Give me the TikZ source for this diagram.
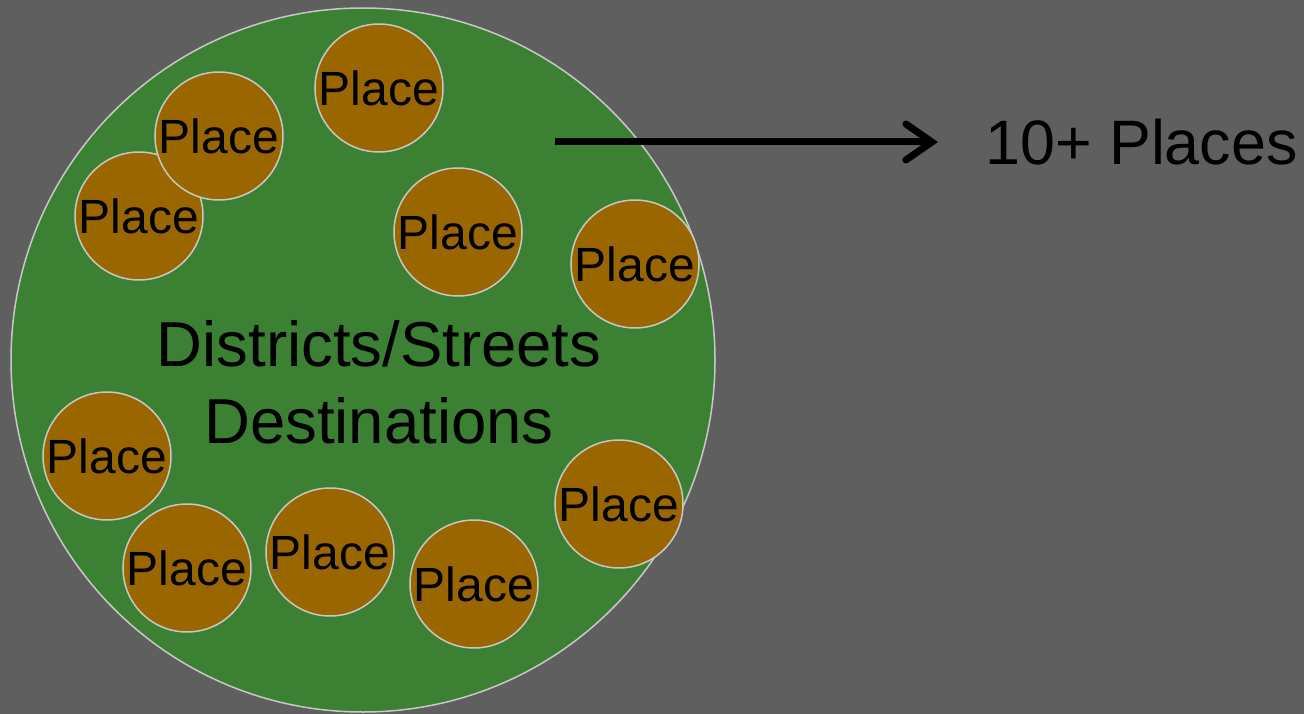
\documentclass[tikz,border=0pt]{standalone}
\usepackage{fontspec}
\setmainfont{Liberation Sans}
\usetikzlibrary{arrows.meta}

\definecolor{bggray}{HTML}{5F5F5F}
\definecolor{areagreen}{HTML}{3C8033}
\definecolor{placebrown}{HTML}{996600}
\definecolor{rimgray}{HTML}{C8C8C8}

\tikzset{
  area/.style={circle, draw=rimgray, line width=1.5pt, fill=areagreen,
    minimum size=704pt, inner sep=0pt},
  place/.style={circle, draw=rimgray, line width=1.5pt, fill=placebrown,
    minimum size=128pt, inner sep=0pt, font=\fontsize{48}{56}\selectfont,
    text=black},
  bigtext/.style={font=\fontsize{63.5}{76}\selectfont, text=black, inner sep=0pt},
  pointer/.style={draw=black, line width=7pt,
    -{Straight Barb[length=26pt, width=36pt, line cap=round]}}
}

\begin{document}
\begin{tikzpicture}[x=1pt, y=-1pt]
  \useasboundingbox (0,0) rectangle (1304,714);
  \fill[bggray] (0,0) rectangle (1304,714);

  % district area
  \node[area] (district) at (363,360) {};

  % places inside the district
  \node[place] (p1)  at (379,88)  {Place};
  \node[place] (p3)  at (139,216) {Place};
  \node[place] (p2)  at (219,136) {Place};
  \node[place] (p4)  at (458,232) {Place};
  \node[place] (p5)  at (635,264) {Place};
  \node[place] (p6)  at (107,456) {Place};
  \node[place] (p7)  at (187,568) {Place};
  \node[place] (p8)  at (330,552) {Place};
  \node[place] (p9)  at (474,584) {Place};
  \node[place] (p10) at (619,504) {Place};

  % district caption
  \node[bigtext, anchor=base] (districts) at (379,366.7) {Districts/Streets};
  \node[bigtext, anchor=base] (destinations) at (379,443.3) {Destinations};

  % count label and pointer
  \node[bigtext, font=\fontsize{62.8}{76}\selectfont, anchor=base west] (count)
    at (985,165) {10+ Places};
  \coordinate (arrowstart) at (555,142);
  \coordinate (arrowend) at (938,142);
  \draw[pointer] (arrowstart) -- (arrowend);
\end{tikzpicture}
\end{document}
